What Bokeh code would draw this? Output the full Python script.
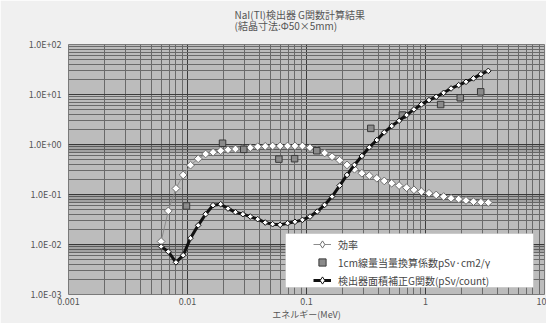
import math

from bokeh.plotting import figure
from bokeh.models import (FixedTicker, CustomJSTickFormatter, BoxAnnotation, Title,
                          Legend, LegendItem)
from bokeh.embed import file_html
from bokeh.resources import INLINE

FONT = "Noto Sans CJK JP"

# Photon energy grid (MeV) shared by the efficiency and G-function series
energy_mev = [0.0060, 0.0069, 0.0080, 0.0092, 0.0106, 0.0123, 0.0142, 0.0164, 0.0190,
              0.0219, 0.0253, 0.0292, 0.0337, 0.0389, 0.0450, 0.0519, 0.0600, 0.0693,
              0.0800, 0.0924, 0.107, 0.123, 0.142, 0.164, 0.190, 0.219, 0.253, 0.292,
              0.337, 0.390, 0.450, 0.520, 0.600, 0.693, 0.800, 0.924, 1.07, 1.23, 1.42,
              1.64, 1.90, 2.19, 2.53, 2.92, 3.37]

# 効率 (detection efficiency)
efficiency = [0.0115, 0.047, 0.132, 0.246, 0.386, 0.519, 0.646, 0.699, 0.751,
              0.787, 0.813, 0.824, 0.863, 0.904, 0.920, 0.933, 0.935, 0.935,
              0.935, 0.930, 0.863, 0.776, 0.676, 0.571, 0.484, 0.390, 0.320, 0.266,
              0.238, 0.211, 0.187, 0.168, 0.151, 0.137, 0.124, 0.114, 0.106, 0.098, 0.091,
              0.084, 0.081, 0.076, 0.072, 0.070, 0.069]

# 検出器面積補正G関数 (pSv/count)
g_function = [0.0091, 0.0072, 0.0044, 0.0061, 0.0134, 0.0242, 0.0404, 0.0611, 0.0640,
              0.0523, 0.0443, 0.0404, 0.0362, 0.0321, 0.0275, 0.0255, 0.0247, 0.0267,
              0.0284, 0.0311, 0.0362, 0.0456, 0.0620, 0.0908, 0.151, 0.246, 0.390, 0.589,
              0.879, 1.23, 1.75, 2.34, 2.98, 3.88, 5.04, 6.34, 7.73, 9.0, 10.8,
              13.2, 15.4, 17.9, 21.0, 25.5, 29.7]

# 1cm線量当量換算係数 (pSv·cm2/γ)
conv_energy_mev = [0.0098, 0.0197, 0.0297, 0.0586, 0.0794, 0.122, 0.347, 0.64, 1.34, 1.96, 2.91]
conv_coeff = [0.059, 1.06, 0.80, 0.51, 0.52, 0.75, 2.10, 3.88, 6.3, 8.6, 11.3]

x_major = [0.001, 0.01, 0.1, 1, 10]
y_major = [0.001, 0.01, 0.1, 1, 10, 100]

# trailing blank line lifts the two-line block a little above the panel centre
title_text = "NaI(Tl)検出器 G関数計算結果\n(結晶寸法:Φ50×5mm)\n "
x_label = "エネルギー(MeV)"
legend_labels = ["効率", "1cm線量当量換算係数pSv·cm2/γ", "検出器面積補正G関数(pSv/count)"]

W, H = 546, 323
LEFT, RIGHT, TOP, BOTTOM = 68, 2, 44, 28


def minor_ticks(decade_starts):
    return [k * d for d in decade_starts for k in range(2, 10)]


p = figure(width=W, height=H, x_axis_type="log", y_axis_type="log",
           x_range=(0.001, 10), y_range=(0.001, 100),
           output_backend="svg", toolbar_location=None,
           min_border_left=LEFT, min_border_right=RIGHT,
           min_border_top=TOP, min_border_bottom=BOTTOM)

p.border_fill_color = "#f0f0f0"
p.background_fill_color = "#bcbcbc"
p.outline_line_color = "#7a7a7a"

p.add_layout(Title(text=title_text, align="left", offset=166, vertical_align="bottom",
                   standoff=2, text_font=FONT, text_font_size="10px",
                   text_font_style="normal", text_color="#555555",
                   text_line_height=0.72), "above")

p.xaxis.ticker = FixedTicker(ticks=x_major, minor_ticks=minor_ticks(x_major[:-1]))
p.yaxis.ticker = FixedTicker(ticks=y_major, minor_ticks=minor_ticks(y_major[:-1]))

p.xaxis.formatter = CustomJSTickFormatter(code="""
    return tick >= 1 ? tick.toFixed(0) : String(Number(tick.toPrecision(1)));
""")
p.yaxis.formatter = CustomJSTickFormatter(code="""
    const parts = tick.toExponential(1).toUpperCase().split('E');
    const sign = parts[1][0];
    let d = parts[1].slice(1);
    if (d.length < 2) { d = '0' + d; }
    return parts[0] + 'E' + sign + d;
""")

for ax in (p.xaxis[0], p.yaxis[0]):
    ax.axis_line_color = None
    ax.major_tick_line_color = None
    ax.minor_tick_line_color = None
    ax.major_tick_in = 0
    ax.major_tick_out = 0
    ax.minor_tick_in = 0
    ax.minor_tick_out = 0
    ax.major_label_text_font = FONT
    ax.major_label_text_font_size = "9px"
    ax.major_label_text_color = "#555555"
p.xaxis.major_label_standoff = 3
p.yaxis.major_label_standoff = 7

p.xaxis.axis_label = x_label
p.xaxis.axis_label_standoff = 0
p.xaxis.axis_label_text_font = FONT
p.xaxis.axis_label_text_font_size = "9px"
p.xaxis.axis_label_text_font_style = "normal"
p.xaxis.axis_label_text_color = "#555555"

for g in (p.xgrid[0], p.ygrid[0]):
    g.grid_line_color = "#3c3c3c"
    g.grid_line_width = 1
    g.minor_grid_line_color = "#6a6a6a"
    g.minor_grid_line_width = 1

# darker shading just below the lower decade lines
for d in [1.0, 0.1, 0.01]:
    p.add_layout(BoxAnnotation(bottom=0.7 * d, top=d, fill_color="#000000",
                               fill_alpha=0.13, line_color=None, level="underlay"))

# legend background panel
p.add_layout(BoxAnnotation(left=285 - LEFT, right=533 - LEFT, bottom=7, top=61,
                           left_units="screen", right_units="screen",
                           bottom_units="screen", top_units="screen",
                           fill_color="white", fill_alpha=1.0, line_color="#a0a0a0",
                           line_width=1, level="overlay"))

DIAMOND = math.pi / 4

eff_line = p.line(energy_mev, efficiency, line_color="#8c8c8c", line_width=1)
p.scatter(energy_mev, efficiency, marker="square", angle=DIAMOND, size=5.5,
          fill_color="white", line_color="#6e6e6e", line_width=1)

conv_pts = p.scatter(conv_energy_mev, conv_coeff, marker="square", size=6.5,
                     fill_color="#8a8a8a", line_color="#3a3a3a", line_width=1)

g_line = p.line(energy_mev, g_function, line_color="#111111", line_width=3)
p.scatter(energy_mev, g_function, marker="square", angle=DIAMOND, size=4,
          fill_color="white", line_color="#111111", line_width=1)

# hidden diamond renderers that only supply the legend swatches
eff_key = p.scatter(energy_mev, efficiency, marker="diamond", size=9,
                    fill_color="white", line_color="#6e6e6e", line_width=1, visible=False)
g_key = p.scatter(energy_mev, g_function, marker="diamond", size=7,
                  fill_color="white", line_color="#111111", line_width=1, visible=False)

lg = Legend(items=[
    LegendItem(label=legend_labels[0], renderers=[eff_line, eff_key]),
    LegendItem(label=legend_labels[1], renderers=[conv_pts]),
    LegendItem(label=legend_labels[2], renderers=[g_line, g_key]),
])
lg.location = (313 - LEFT, 5)
lg.background_fill_alpha = 0
lg.border_line_color = None
lg.padding = 0
lg.margin = 0
lg.spacing = 0
lg.glyph_width = 18
lg.glyph_height = 18
lg.label_height = 18
lg.label_standoff = 7
lg.label_text_font = FONT
lg.label_text_font_size = "10px"
lg.label_text_color = "#444444"
lg.level = "overlay"
p.add_layout(lg, "center")

open("out.html", "w").write(file_html(p, INLINE))
